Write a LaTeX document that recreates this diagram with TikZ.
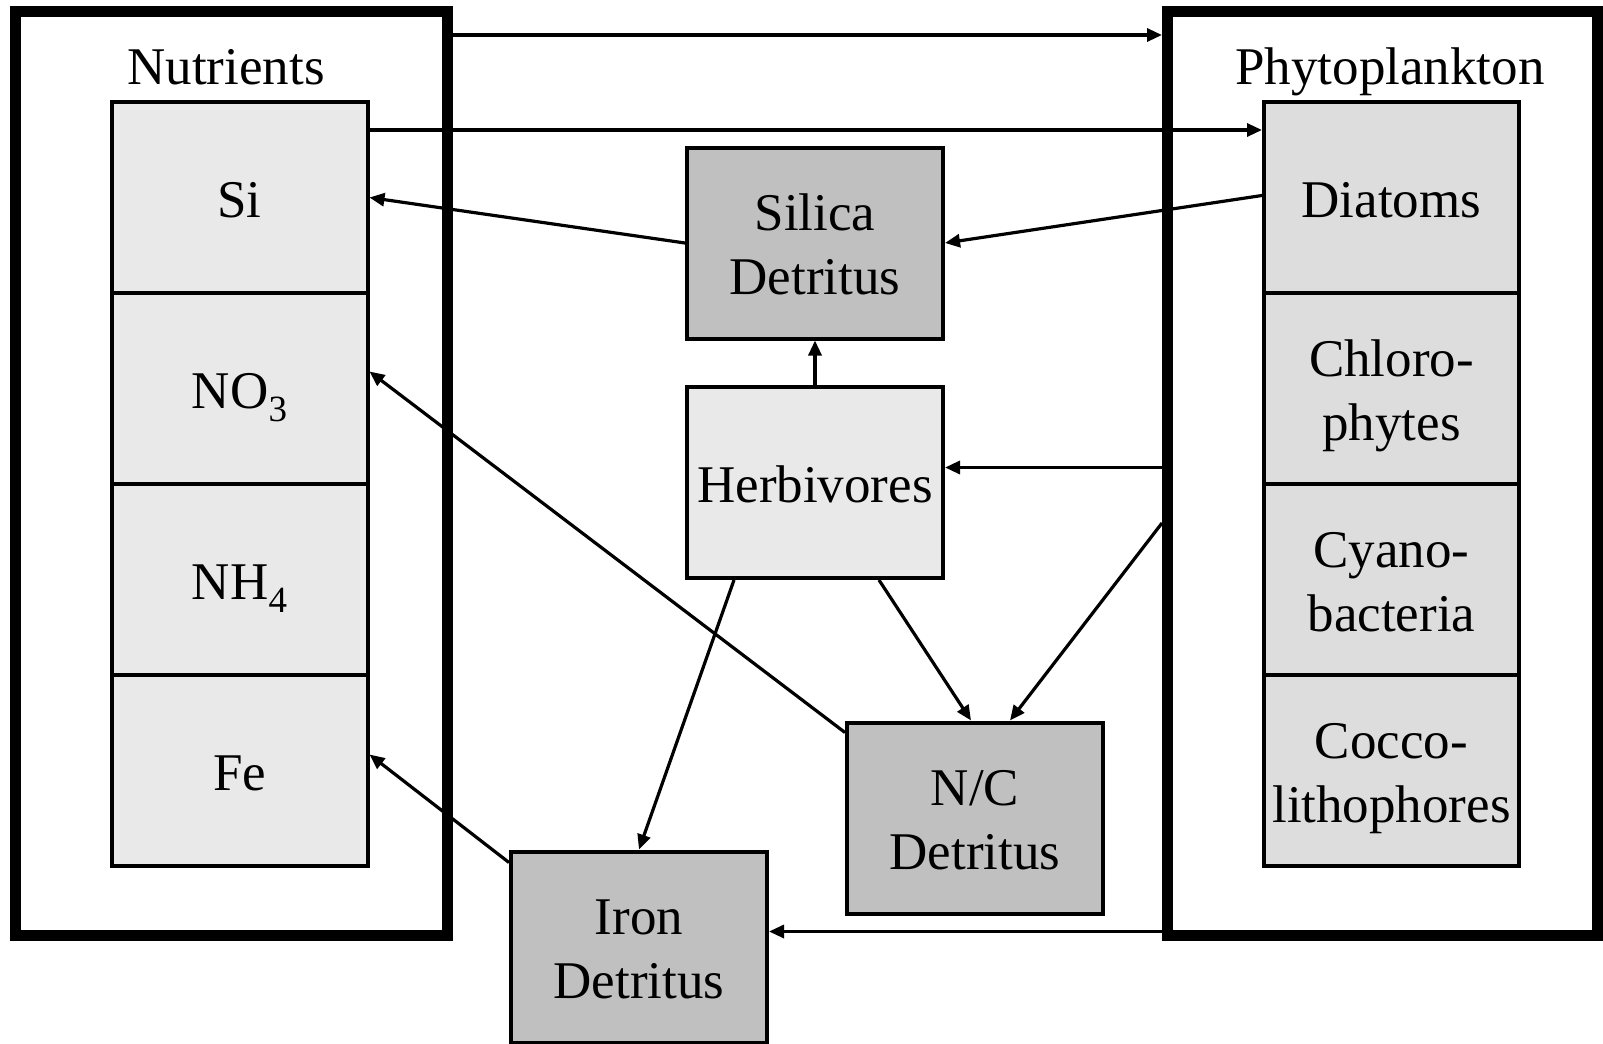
\documentclass[tikz,border=0pt]{standalone}
\usepackage{fontspec}
\setmainfont{Liberation Serif}
\usetikzlibrary{arrows.meta}
\definecolor{nutfill}{HTML}{E9E9E9}
\definecolor{phyfill}{HTML}{DDDDDD}
\definecolor{detfill}{HTML}{C0C0C0}
\newcommand\twoline[2]{\begin{tabular}[t]{@{}c@{}}#1\\#2\end{tabular}}
\newcommand\subnum[1]{\raisebox{-6.5pt}{\fontsize{18.5}{18.5}\selectfont #1}}
\begin{document}
\begin{tikzpicture}[x=0.5pt,y=-0.5pt,
  outerbox/.style={draw,line width=5.5pt,inner sep=0pt},
  cellbox/.style={draw,line width=2pt,inner sep=0pt,minimum width=128pt,minimum height=95.5pt},
  nutcell/.style={cellbox,fill=nutfill},
  phycell/.style={cellbox,fill=phyfill,minimum width=127.5pt},
  detbox/.style={cellbox,fill=detfill},
  herbbox/.style={cellbox,fill=nutfill},
  lbl/.style={anchor=base,inner sep=0pt,font=\fontsize{26.5}{32}\selectfont},
  arr/.style={line width=1.6pt,-{Triangle[length=7.5pt,width=6.5pt]}}]
\useasboundingbox (0,0) rectangle (1603,1044);
% outer boxes
\node[outerbox,minimum width=216pt,minimum height=462pt] (nutbox) at (231.5,473) {};
\node[outerbox,minimum width=215pt,minimum height=462pt] (phybox) at (1382.5,473) {};
\node[lbl] (nutlbl) at (226,84) {Nutrients};
\node[lbl] (phylbl) at (1390,84) {Phytoplankton};
% nutrient cells
\node[nutcell] (si)  at (239.5,197.5) {};
\node[nutcell] (no3) at (239.5,388.5) {};
\node[nutcell] (nh4) at (239.5,579.5) {};
\node[nutcell] (fe)  at (239.5,770.5) {};
\node[lbl] (sit)  at ([yshift=-9.75pt]si.center)  {Si};
\node[lbl] (no3t) at ([yshift=-9.75pt]no3.center) {NO\subnum{3}};
\node[lbl] (nh4t) at ([yshift=-9.75pt]nh4.center) {NH\subnum{4}};
\node[lbl] (fet)  at ([yshift=-9.75pt]fe.center)  {Fe};
% phytoplankton cells
\node[phycell] (diat)  at (1391.5,197.5) {};
\node[phycell] (chl)   at (1391.5,388.5) {};
\node[phycell] (cyano) at (1391.5,579.5) {};
\node[phycell] (cocco) at (1391.5,770.5) {};
\node[lbl] (diatt)  at ([yshift=-9.75pt]diat.center) {Diatoms};
\node[lbl] (chlt)   at ([yshift=6.25pt]chl.center)   {\twoline{Chloro-}{phytes}};
\node[lbl] (cyanot) at ([yshift=6.25pt]cyano.center) {\twoline{Cyano-}{bacteria}};
\node[lbl] (coccot) at ([yshift=6.25pt]cocco.center) {\twoline{Cocco-}{lithophores}};
% middle boxes
\node[detbox]  (silica) at (815,243)   {};
\node[herbbox] (herb)   at (815,482.5) {};
\node[detbox]  (nc)     at (975,818)   {};
\node[detbox]  (iron)   at (639,947)   {};
\node[lbl] (silicat) at ([yshift=6.25pt]silica.center) {\twoline{Silica}{Detritus}};
\node[lbl] (herbt)   at ([yshift=-9.75pt]herb.center) {Herbivores};
\node[lbl] (nct)     at ([yshift=6.25pt]nc.center)     {\twoline{N/C}{Detritus}};
\node[lbl] (iront)   at ([yshift=6.25pt]iron.center)   {\twoline{Iron}{Detritus}};
% connectors
\coordinate (ytop) at (0,35);
\draw[arr] (nutbox.east |- ytop) -- (phybox.west |- ytop);
\draw[arr] ([yshift=-15pt]si.north east) -- ([yshift=-15pt]diat.north west);
\draw[arr] ([yshift=1pt]diat.west) -- (silica.east);
\draw[arr] (silica.west) -- (si.east);
\draw[arr] (herb.north) -- (silica.south);
\coordinate (hin) at ([yshift=7.5pt]herb.east);
\draw[arr] (phybox.west |- hin) -- (hin);
\coordinate (pnc) at (0,523);
\draw[arr] (phybox.west |- pnc) -- ([xshift=17.5pt]nc.north);
\draw[arr] ([xshift=32pt]herb.south) -- ([xshift=-2pt]nc.north);
\draw[arr] ([xshift=-40.5pt]herb.south) -- (iron.north);
\draw[arr] ([yshift=-6pt]nc.north west) -- ([yshift=8.5pt]no3.east);
\draw[arr] ([yshift=-6.5pt]iron.north west) -- ([yshift=8pt]fe.east);
\coordinate (ironin) at ([yshift=7.75pt]iron.east);
\draw[arr] (phybox.west |- ironin) -- (ironin);
\end{tikzpicture}
\end{document}
